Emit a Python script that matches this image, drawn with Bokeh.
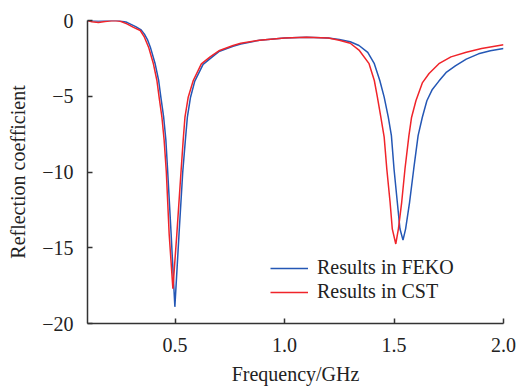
from bokeh.plotting import figure
from bokeh.models import Range1d, FixedTicker, Legend, LegendItem
from bokeh.embed import file_html
from bokeh.resources import INLINE

# FEKO results (blue)
feko_f = [0.10, 0.15, 0.20, 0.24, 0.28, 0.32, 0.345, 0.36, 0.375, 0.387, 0.409, 0.425, 0.435,
          0.448, 0.458, 0.466, 0.482, 0.499, 0.518, 0.535, 0.547, 0.556, 0.57, 0.59, 0.628,
          0.67, 0.70, 0.765, 0.80, 0.886, 1.00, 1.10, 1.20, 1.25, 1.30, 1.34, 1.38, 1.41,
          1.435, 1.455, 1.474, 1.488, 1.50, 1.515, 1.527, 1.541, 1.553, 1.571, 1.59, 1.61,
          1.629, 1.65, 1.675, 1.705, 1.74, 1.78, 1.83, 1.886, 1.94, 2.00]
feko_s = [0.0, -0.03, 0.0, 0.0, -0.12, -0.4, -0.62, -0.9, -1.3, -1.76, -2.86, -3.96, -5.06,
          -6.4, -7.9, -9.9, -14.1, -18.9, -14.1, -10.0, -7.9, -6.4, -5.1, -4.0, -2.9,
          -2.4, -2.05, -1.7, -1.55, -1.3, -1.15, -1.1, -1.15, -1.25, -1.4, -1.65, -2.1, -2.85,
          -3.96, -5.06, -6.4, -7.6, -9.8, -12.0, -13.75, -14.5, -13.75, -12.0, -9.8, -7.6,
          -6.4, -5.3, -4.55, -4.0, -3.4, -3.0, -2.55, -2.2, -2.0, -1.85]

# CST results (red)
cst_f = [0.10, 0.12, 0.15, 0.18, 0.22, 0.25, 0.28, 0.31, 0.341, 0.36, 0.379, 0.401, 0.417,
         0.427, 0.44, 0.45, 0.46, 0.473, 0.49, 0.508, 0.527, 0.537, 0.545, 0.56, 0.583,
         0.62, 0.66, 0.70, 0.765, 0.80, 0.886, 1.00, 1.10, 1.20, 1.25, 1.30, 1.34, 1.386,
         1.41, 1.424, 1.44, 1.455, 1.467, 1.482, 1.492, 1.508, 1.52, 1.535, 1.55, 1.568,
         1.58, 1.60, 1.63, 1.66, 1.705, 1.76, 1.83, 1.90, 2.00]
cst_s = [0.0, -0.08, -0.13, -0.06, 0.0, -0.05, -0.22, -0.45, -0.66, -1.1, -1.76, -2.86, -3.96,
         -5.06, -6.4, -7.9, -10.0, -14.1, -17.7, -14.1, -10.0, -7.9, -6.4, -5.06, -3.96,
         -2.86, -2.4, -2.0, -1.65, -1.5, -1.3, -1.15, -1.1, -1.15, -1.3, -1.5, -1.95, -2.85,
         -3.96, -5.06, -6.4, -7.7, -9.8, -12.0, -13.75, -14.75, -13.75, -12.0, -9.8, -7.6,
         -6.4, -5.3, -4.1, -3.5, -2.85, -2.4, -2.1, -1.85, -1.6]

x_ticks = [0.5, 1.0, 1.5, 2.0]
x_tick_labels = ["0.5", "1.0", "1.5", "2.0"]
y_ticks = [0, -5, -10, -15, -20]
y_tick_labels = ["0", "\u22125", "\u221210", "\u221215", "\u221220"]

FONT = "Liberation Serif"
FS = "20px"
AXIS_COLOR = "#333333"

p = figure(width=517, height=387, output_backend="svg", toolbar_location=None,
           x_range=Range1d(0.1, 2.0), y_range=Range1d(-20, 0),
           min_border_left=87, min_border_right=14, min_border_top=20, min_border_bottom=64)
p.outline_line_color = None
p.xgrid.visible = False
p.ygrid.visible = False
p.background_fill_color = "white"
p.border_fill_color = "white"

for ax in (p.xaxis[0], p.yaxis[0]):
    ax.axis_line_color = AXIS_COLOR
    ax.axis_line_width = 1.5
    ax.major_tick_line_color = AXIS_COLOR
    ax.major_tick_line_width = 1.5
    ax.major_tick_in = 5
    ax.major_tick_out = 0
    ax.minor_tick_line_color = None
    ax.major_label_text_font = FONT
    ax.major_label_text_font_size = FS
    ax.major_label_text_color = "#222222"
    ax.axis_label_text_font = FONT
    ax.axis_label_text_font_size = FS
    ax.axis_label_text_font_style = "normal"
    ax.axis_label_text_color = "#222222"

p.xaxis.ticker = FixedTicker(ticks=x_ticks)
p.xaxis.major_label_overrides = dict(zip(x_ticks, x_tick_labels))
p.yaxis.ticker = FixedTicker(ticks=y_ticks)
p.yaxis.major_label_overrides = dict(zip(y_ticks, y_tick_labels))
p.xaxis.axis_label = "Frequency/GHz"
p.yaxis.axis_label = "Reflection coefficient"
p.xaxis.major_label_standoff = 14
p.yaxis.major_label_standoff = 14
p.xaxis.axis_label_standoff = 8
p.yaxis.axis_label_standoff = 10

r_feko = p.line(feko_f, feko_s, line_color="#2457b5", line_width=1.5)
r_cst = p.line(cst_f, cst_s, line_color="#f0242a", line_width=1.5)

legend = Legend(items=[LegendItem(label="Results in FEKO", renderers=[r_feko]),
                       LegendItem(label="Results in CST", renderers=[r_cst])],
                location=(183, 20), orientation="vertical",
                border_line_color=None, background_fill_alpha=0,
                label_text_font=FONT, label_text_font_size=FS,
                label_text_color="#222222",
                glyph_width=38, glyph_height=20, label_height=20,
                label_standoff=9, spacing=1, padding=0, margin=0)
p.add_layout(legend, "center")

open("out.html", "w").write(file_html(p, INLINE))
